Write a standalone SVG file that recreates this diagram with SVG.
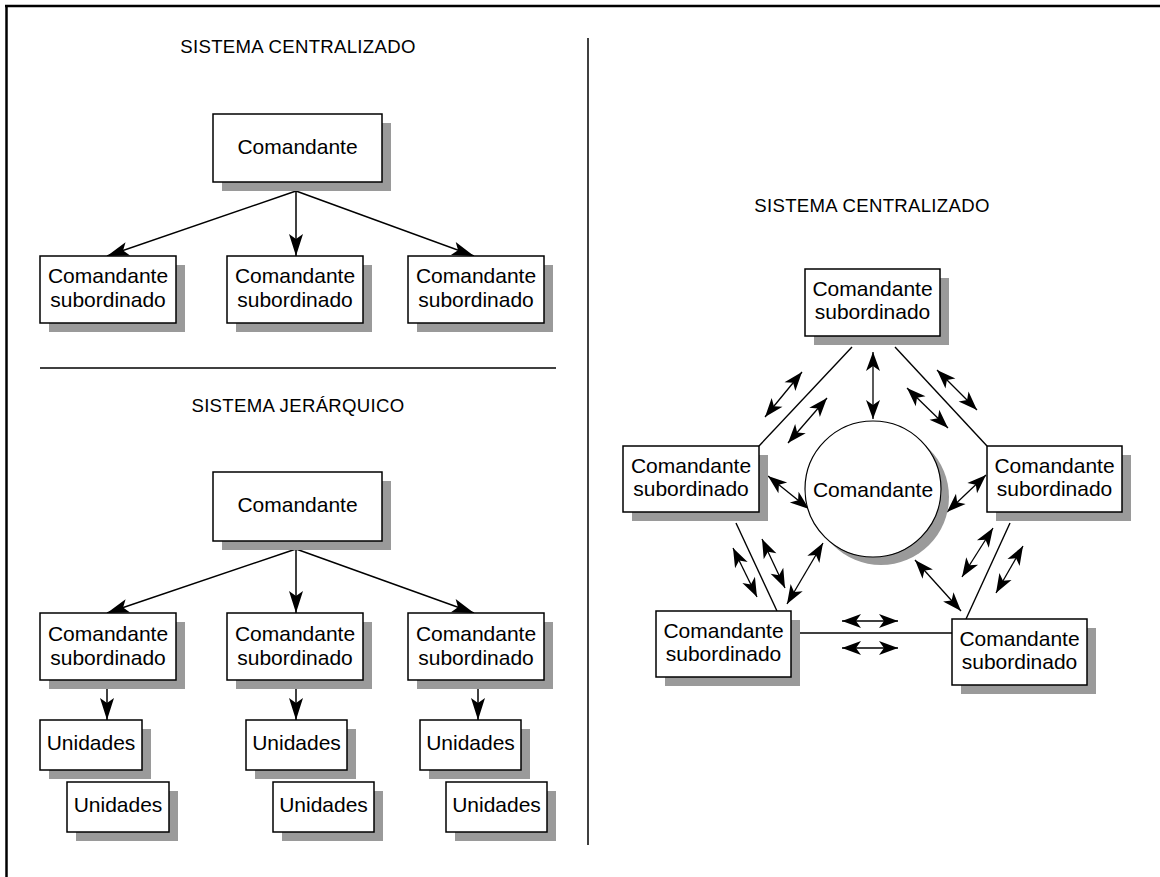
<svg xmlns="http://www.w3.org/2000/svg" width="1160" height="877" viewBox="0 0 1160 877">
<style>
.bg{fill:#fff}
.frame{stroke:#000;stroke-width:2.5;fill:none}
.box{fill:#fff;stroke:#000;stroke-width:1.5}
.sh{fill:#9a9a9a}
.t{font-family:"Liberation Sans",Arial,Helvetica,sans-serif;font-size:21px;text-anchor:middle;fill:#000}
.title{font-size:18.6px;letter-spacing:0.3px}
.ln{stroke:#000;stroke-width:1.4;fill:none}
.arr{stroke:#000;stroke-width:1.5;fill:none;marker-end:url(#ah)}
.dbl{stroke:#000;stroke-width:1.3;fill:none;marker-start:url(#dh);marker-end:url(#dh)}
</style>
<defs>
<marker id="ah" markerUnits="userSpaceOnUse" markerWidth="24" markerHeight="15" refX="22" refY="7" orient="auto" overflow="visible">
<path d="M22,7 L0,0 L5,7 L0,14 Z" fill="#000"/>
</marker>
<marker id="dh" markerUnits="userSpaceOnUse" markerWidth="20" markerHeight="15" refX="19" refY="7" orient="auto-start-reverse" overflow="visible">
<path d="M19,7 L0,0 L5,7 L0,14 Z" fill="#000"/>
</marker>
</defs>
<rect class="bg" x="0" y="0" width="1160" height="877"/>
<g id="frame">
<line class="frame" x1="6.5" y1="5" x2="6.5" y2="877"/>
<line class="frame" x1="5" y1="6" x2="1160" y2="6"/>
<line class="ln" x1="588" y1="38" x2="588" y2="845" style="stroke-width:1.5"/>
<line class="ln" x1="40" y1="368" x2="556" y2="368" style="stroke-width:1.5"/>
</g>
<g id="titles">
<text class="t title" x="298" y="53">SISTEMA CENTRALIZADO</text>
<text class="t title" x="298" y="412">SISTEMA JERÁRQUICO</text>
<text class="t title" x="872" y="212">SISTEMA CENTRALIZADO</text>
</g>
<g id="connectors">
<line class="arr" x1="296" y1="191" x2="107" y2="256"/>
<line class="arr" x1="296" y1="191" x2="296" y2="256"/>
<line class="arr" x1="296" y1="191" x2="474" y2="256"/>
<line class="arr" x1="296" y1="549" x2="107" y2="613"/>
<line class="arr" x1="296" y1="549" x2="296" y2="613"/>
<line class="arr" x1="296" y1="549" x2="474" y2="613"/>
<line class="arr" x1="107" y1="689" x2="107" y2="720"/>
<line class="arr" x1="296" y1="689" x2="296" y2="720"/>
<line class="arr" x1="478" y1="689" x2="478" y2="720"/>
<line class="ln" x1="852" y1="347" x2="759" y2="446"/>
<line class="ln" x1="895" y1="347" x2="987" y2="446"/>
<line class="ln" x1="736" y1="523" x2="777" y2="611"/>
<line class="ln" x1="1010" y1="523" x2="966" y2="619"/>
<line class="ln" x1="791" y1="633" x2="952" y2="633"/>
<line class="dbl" x1="765" y1="417" x2="802" y2="372"/>
<line class="dbl" x1="788" y1="443" x2="827" y2="398"/>
<line class="dbl" x1="873" y1="352" x2="873" y2="419"/>
<line class="dbl" x1="907" y1="388" x2="948" y2="428"/>
<line class="dbl" x1="937" y1="370" x2="977" y2="410"/>
<line class="dbl" x1="768" y1="476" x2="809" y2="509"/>
<line class="dbl" x1="947" y1="512" x2="986" y2="475"/>
<line class="dbl" x1="733" y1="548" x2="757" y2="597"/>
<line class="dbl" x1="762" y1="539" x2="785" y2="588"/>
<line class="dbl" x1="823" y1="543" x2="787" y2="604"/>
<line class="dbl" x1="915" y1="560" x2="961" y2="611"/>
<line class="dbl" x1="993" y1="528" x2="962" y2="577"/>
<line class="dbl" x1="1023" y1="546" x2="996" y2="593"/>
<line class="dbl" x1="842" y1="621" x2="898" y2="621"/>
<line class="dbl" x1="842" y1="648" x2="898" y2="648"/>
</g>
<g id="c1_cmd"><rect class="sh" x="222" y="123" width="169" height="68"/><rect class="box" x="213" y="114" width="169" height="68"/><text class="t" x="297.5" y="154">Comandante</text></g>
<g id="c1_sub1"><rect class="sh" x="49" y="265" width="136" height="67"/><rect class="box" x="40" y="256" width="136" height="67"/><text class="t" x="108" y="283">Comandante</text><text class="t" x="108" y="307">subordinado</text></g>
<g id="c1_sub2"><rect class="sh" x="236" y="265" width="136" height="67"/><rect class="box" x="227" y="256" width="136" height="67"/><text class="t" x="295" y="283">Comandante</text><text class="t" x="295" y="307">subordinado</text></g>
<g id="c1_sub3"><rect class="sh" x="417" y="265" width="136" height="67"/><rect class="box" x="408" y="256" width="136" height="67"/><text class="t" x="476" y="283">Comandante</text><text class="t" x="476" y="307">subordinado</text></g>
<g id="h_cmd"><rect class="sh" x="222" y="481" width="169" height="69"/><rect class="box" x="213" y="472" width="169" height="69"/><text class="t" x="297.5" y="512">Comandante</text></g>
<g id="h_sub1"><rect class="sh" x="49" y="622" width="136" height="67"/><rect class="box" x="40" y="613" width="136" height="67"/><text class="t" x="108" y="641">Comandante</text><text class="t" x="108" y="665">subordinado</text></g>
<g id="h_sub2"><rect class="sh" x="236" y="622" width="136" height="67"/><rect class="box" x="227" y="613" width="136" height="67"/><text class="t" x="295" y="641">Comandante</text><text class="t" x="295" y="665">subordinado</text></g>
<g id="h_sub3"><rect class="sh" x="417" y="622" width="136" height="67"/><rect class="box" x="408" y="613" width="136" height="67"/><text class="t" x="476" y="641">Comandante</text><text class="t" x="476" y="665">subordinado</text></g>
<g id="u1a"><rect class="sh" x="49" y="729" width="102" height="50"/><rect class="box" x="40" y="720" width="102" height="50"/><text class="t" x="91" y="750">Unidades</text></g>
<g id="u1b"><rect class="sh" x="76" y="791" width="102" height="50"/><rect class="box" x="67" y="782" width="102" height="50"/><text class="t" x="118" y="812">Unidades</text></g>
<g id="u2a"><rect class="sh" x="255" y="729" width="101" height="50"/><rect class="box" x="246" y="720" width="101" height="50"/><text class="t" x="296.5" y="750">Unidades</text></g>
<g id="u2b"><rect class="sh" x="282" y="791" width="101" height="50"/><rect class="box" x="273" y="782" width="101" height="50"/><text class="t" x="323.5" y="812">Unidades</text></g>
<g id="u3a"><rect class="sh" x="429" y="729" width="101" height="50"/><rect class="box" x="420" y="720" width="101" height="50"/><text class="t" x="470.5" y="750">Unidades</text></g>
<g id="u3b"><rect class="sh" x="455" y="791" width="101" height="50"/><rect class="box" x="446" y="782" width="101" height="50"/><text class="t" x="496.5" y="812">Unidades</text></g>
<g id="r_cmd"><circle class="sh" cx="881" cy="497" r="68"/><circle cx="873" cy="489" r="68" fill="#fff" stroke="#000" stroke-width="1.2"/><text class="t" x="873" y="497">Comandante</text></g>
<g id="r_top"><rect class="sh" x="814" y="278" width="135" height="67"/><rect class="box" x="805" y="269" width="135" height="67"/><text class="t" x="872.5" y="296">Comandante</text><text class="t" x="872.5" y="319">subordinado</text></g>
<g id="r_left"><rect class="sh" x="632" y="455" width="136" height="66"/><rect class="box" x="623" y="446" width="136" height="66"/><text class="t" x="691" y="473">Comandante</text><text class="t" x="691" y="496">subordinado</text></g>
<g id="r_right"><rect class="sh" x="996" y="455" width="135" height="66"/><rect class="box" x="987" y="446" width="135" height="66"/><text class="t" x="1054.5" y="473">Comandante</text><text class="t" x="1054.5" y="496">subordinado</text></g>
<g id="r_bl"><rect class="sh" x="665" y="620" width="135" height="66"/><rect class="box" x="656" y="611" width="135" height="66"/><text class="t" x="723.5" y="638">Comandante</text><text class="t" x="723.5" y="661">subordinado</text></g>
<g id="r_br"><rect class="sh" x="961" y="628" width="135" height="66"/><rect class="box" x="952" y="619" width="135" height="66"/><text class="t" x="1019.5" y="646">Comandante</text><text class="t" x="1019.5" y="669">subordinado</text></g>
</svg>
